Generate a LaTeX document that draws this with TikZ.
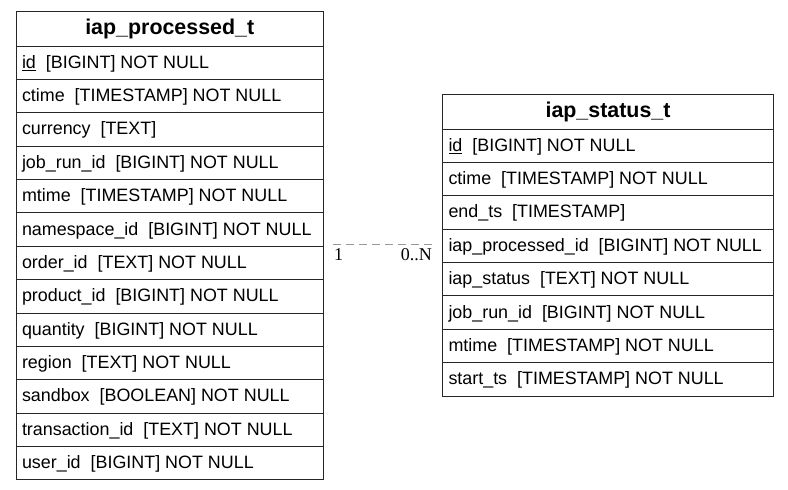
\documentclass[tikz,border=0pt]{standalone}
\usepackage{fontspec}
\setmainfont{Liberation Sans}
\newfontfamily\serifl{Liberation Serif}
\begin{document}
\begin{tikzpicture}[x=1pt,y=-1pt,
  tbl/.style={draw=black!85,line width=1pt,anchor=north west,inner xsep=6pt,inner ysep=0pt,font=\fontsize{17.9}{20}\selectfont},
  hdr/.style={draw=black!85,line width=1pt,anchor=north west,inner sep=0pt,align=center,font=\bfseries\fontsize{21.4}{24}\selectfont},
  conn/.style={draw=black!40,line width=1pt,dash pattern=on 8pt off 5pt},
  card/.style={font=\serifl\fontsize{18}{20}\selectfont,inner sep=0pt}]
\useasboundingbox (0,0) rectangle (788,490);
% left table
\def\LW{307.5}
\def\RH{33.38}
\node[hdr,minimum width=\LW pt,minimum height=35pt] (lh) at (15.5,10.5) {\raisebox{-1pt}{iap\_processed\_t}};
\foreach \t [count=\i] in {
 {\underline{id}~~[BIGINT] NOT NULL},
 {ctime~~[TIMESTAMP] NOT NULL},
 {currency~~[TEXT]},
 {job\_run\_id~~[BIGINT] NOT NULL},
 {mtime~~[TIMESTAMP] NOT NULL},
 {namespace\_id~~[BIGINT] NOT NULL},
 {order\_id~~[TEXT] NOT NULL},
 {product\_id~~[BIGINT] NOT NULL},
 {quantity~~[BIGINT] NOT NULL},
 {region~~[TEXT] NOT NULL},
 {sandbox~~[BOOLEAN] NOT NULL},
 {transaction\_id~~[TEXT] NOT NULL},
 {user\_id~~[BIGINT] NOT NULL}}
 \node[tbl,minimum height=\RH pt] (l\i) at (15.5,{45.5+(\i-1)*\RH}) {\makebox[295.5pt][l]{\strut\raisebox{-1.5pt}{\t}}};
% right table
\def\RW{331}
\node[hdr,minimum width=\RW pt,minimum height=35pt] (rh) at (442,93.5) {\raisebox{-1pt}{iap\_status\_t}};
\foreach \t [count=\i] in {
 {\underline{id}~~[BIGINT] NOT NULL},
 {ctime~~[TIMESTAMP] NOT NULL},
 {end\_ts~~[TIMESTAMP]},
 {iap\_processed\_id~~[BIGINT] NOT NULL},
 {iap\_status~~[TEXT] NOT NULL},
 {job\_run\_id~~[BIGINT] NOT NULL},
 {mtime~~[TIMESTAMP] NOT NULL},
 {start\_ts~~[TIMESTAMP] NOT NULL}}
 \node[tbl,minimum height=\RH pt] (r\i) at (442,{128.5+(\i-1)*\RH}) {\makebox[319pt][l]{\strut\raisebox{-1.5pt}{\t}}};
% connector
\coordinate (ca) at (333,244);
\coordinate (cb) at (432,244);
\draw[conn] (ca) -- (cb);
\node[card,anchor=north west] (c1) at (334,248.5) {1};
\node[card,anchor=north east] (cn) at (432,248.5) {0..N};
\end{tikzpicture}
\end{document}
